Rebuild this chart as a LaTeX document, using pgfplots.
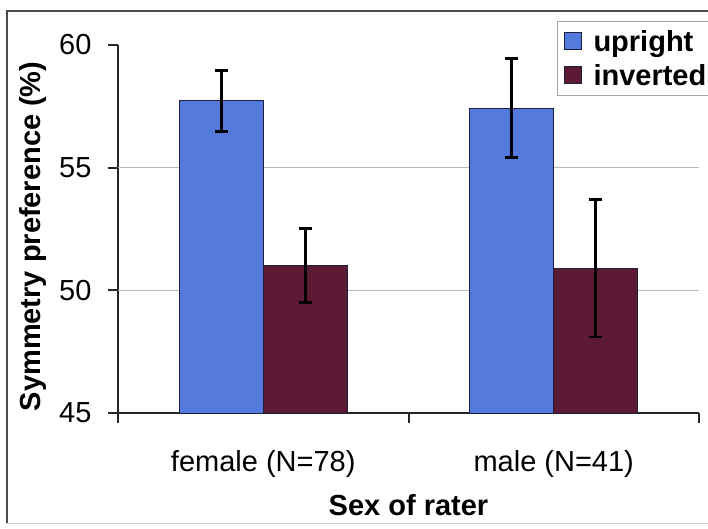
\documentclass[border=0pt]{standalone}
\usepackage{pgfplots}
\pgfplotsset{compat=1.18}
\usepackage{fontspec}
\setmainfont{Liberation Sans}
\definecolor{upblue}{RGB}{84,122,222}
\definecolor{invred}{RGB}{92,26,52}
\definecolor{edge}{RGB}{30,30,60}
\begin{document}
\begin{tikzpicture}
\path[use as bounding box] (-118pt,-115pt) rectangle (590pt,413pt);
\begin{axis}[
  scale only axis, width=581pt, height=368pt,
  xmin=-0.5, xmax=1.5, ymin=45, ymax=60,
  axis x line*=bottom, axis y line*=left,
  axis line style={-, line width=2pt, black!85},
  tick align=outside,
  ybar=0pt, bar width=84pt,
  xtick={0,1}, xticklabels={female (N=78), male (N=41)},
  major x tick style={draw=none},
  minor xtick={-0.5,0.5,1.5},
  minor tick length=10pt, major tick length=10pt,
  tick style={line width=2pt, black!85},
  ytick={45,50,55,60},
  extra y ticks={50,55}, extra y tick labels={},
  extra y tick style={grid=major, major tick length=0pt, grid style={gray!55, line width=1pt}},
  font=\fontsize{29}{34}\selectfont,
  /pgf/number format/assume math mode=true,
  yticklabel style={xshift=-13pt},
  xticklabel style={yshift=-24pt},
  ylabel={\bfseries Symmetry preference (\%)},
  xlabel={\bfseries Sex of rater},
  ylabel style={at={(axis description cs:-0.146,0.48)}, anchor=center},
  xlabel style={at={(axis description cs:0.5,-0.25)}, anchor=center},
  legend style={at={(axis description cs:0.7556,1.065)}, anchor=north west,
    draw=gray!70, line width=1pt, font=\bfseries\fontsize{29}{34}\selectfont,
    inner xsep=6pt, inner ysep=7pt, row sep=7pt},
  legend cell align=left,
  legend image code/.code={\draw[#1, line width=1pt] (0pt,-8pt) rectangle (17pt,9pt); \path (27pt,0pt);},
]
\addplot[fill=upblue, draw=edge, line width=1pt,
  error bars/.cd, y dir=both, y explicit, error mark=|,
  error bar style={line width=2.8pt, black},
  error mark options={mark size=6.5pt, line width=2.8pt, black}]
  table[x=x, y=y, y error=e] {
x y e
0 57.72 1.25
1 57.42 2.02
};
\addplot[fill=invred, draw=edge, line width=1pt,
  error bars/.cd, y dir=both, y explicit, error mark=|,
  error bar style={line width=2.8pt, black},
  error mark options={mark size=6.5pt, line width=2.8pt, black}]
  table[x=x, y=y, y error=e] {
x y e
0 51.02 1.50
1 50.90 2.80
};
\legend{upright, inverted}
\end{axis}
\draw[gray!60!black, line width=1.5pt] (-111pt,-110pt) -- (-111pt,402pt) -- (600pt,402pt);
\draw[gray!40, line width=1pt] (-111pt,-110pt) -- (600pt,-110pt);
\end{tikzpicture}
\end{document}
